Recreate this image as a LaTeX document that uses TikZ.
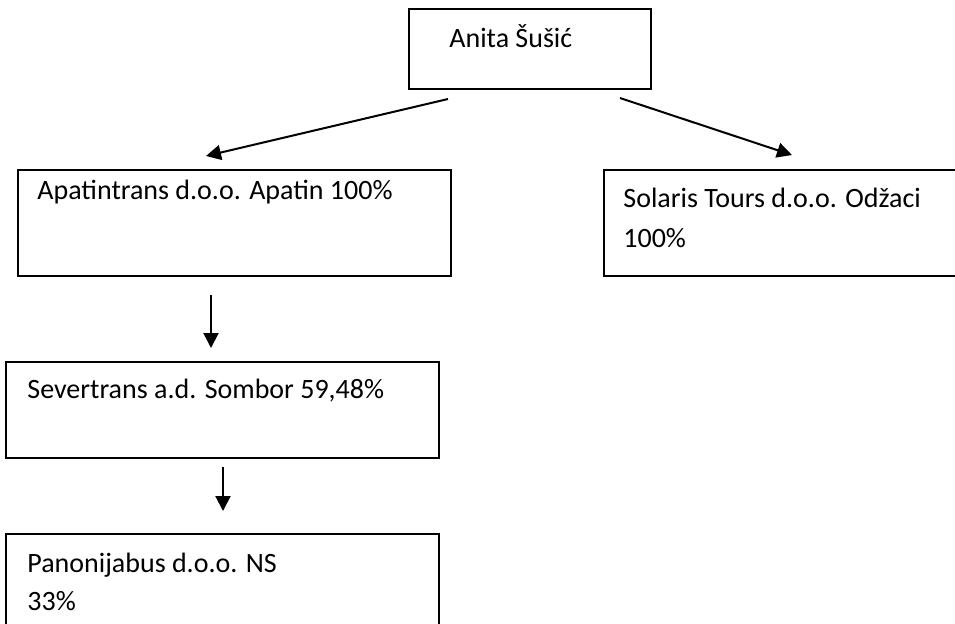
\documentclass[tikz,border=0pt]{standalone}
\usepackage{fontspec}
\setmainfont{Carlito}
\usetikzlibrary{arrows.meta}

\tikzset{
  box/.style={draw, line width=1pt, inner sep=0pt, anchor=north west},
  lbl/.style={anchor=base west, inner sep=0pt, font=\fontsize{14}{20}\selectfont},
  arr/.style={line width=1pt, -{Triangle[length=7.5pt, width=7.5pt]}}
}

\begin{document}
\begin{tikzpicture}[x=0.5pt, y=-0.5pt]
  \clip (0,0) rectangle (955,623);
  % boxes
  \node[box, minimum width=121pt, minimum height=40pt] (anita) at (408,8) {};
  \node[box, minimum width=216.5pt, minimum height=53pt] (apatin) at (17,169) {};
  \node[box, minimum width=200pt, minimum height=53pt] (solaris) at (603,169) {};
  \node[box, minimum width=216.5pt, minimum height=48pt] (sever) at (5,361) {};
  \node[box, minimum width=216.5pt, minimum height=64pt] (panon) at (5,533) {};
  % texts
  \node[lbl] (anita-t) at (449,47) {Anita Šušić};
  \node[lbl] (apatin-t) at (37,199) {Apatintrans d.o.o. Apatin 100\%};
  \node[lbl] (solaris-t) at (623,207) {Solaris Tours d.o.o. Odžaci};
  \node[lbl] (solaris-p) at (623,247) {100\%};
  \node[lbl] (sever-t) at (27,398) {Severtrans a.d. Sombor 59,48\%};
  \node[lbl] (panon-t) at (27,572) {Panonijabus d.o.o. NS};
  \node[lbl] (panon-p) at (27,610) {33\%};
  % arrows
  \coordinate (l-from) at (448,99);
  \coordinate (l-to) at (206,156);
  \coordinate (r-from) at (620,98);
  \coordinate (r-to) at (792,155);
  \coordinate (d1-from) at (211,295);
  \coordinate (d1-to) at (211,348);
  \coordinate (d2-from) at (223,467);
  \coordinate (d2-to) at (223,511);
  \draw[arr] (l-from) -- (l-to);
  \draw[arr] (r-from) -- (r-to);
  \draw[arr] (d1-from) -- (d1-to);
  \draw[arr] (d2-from) -- (d2-to);
\end{tikzpicture}
\end{document}
